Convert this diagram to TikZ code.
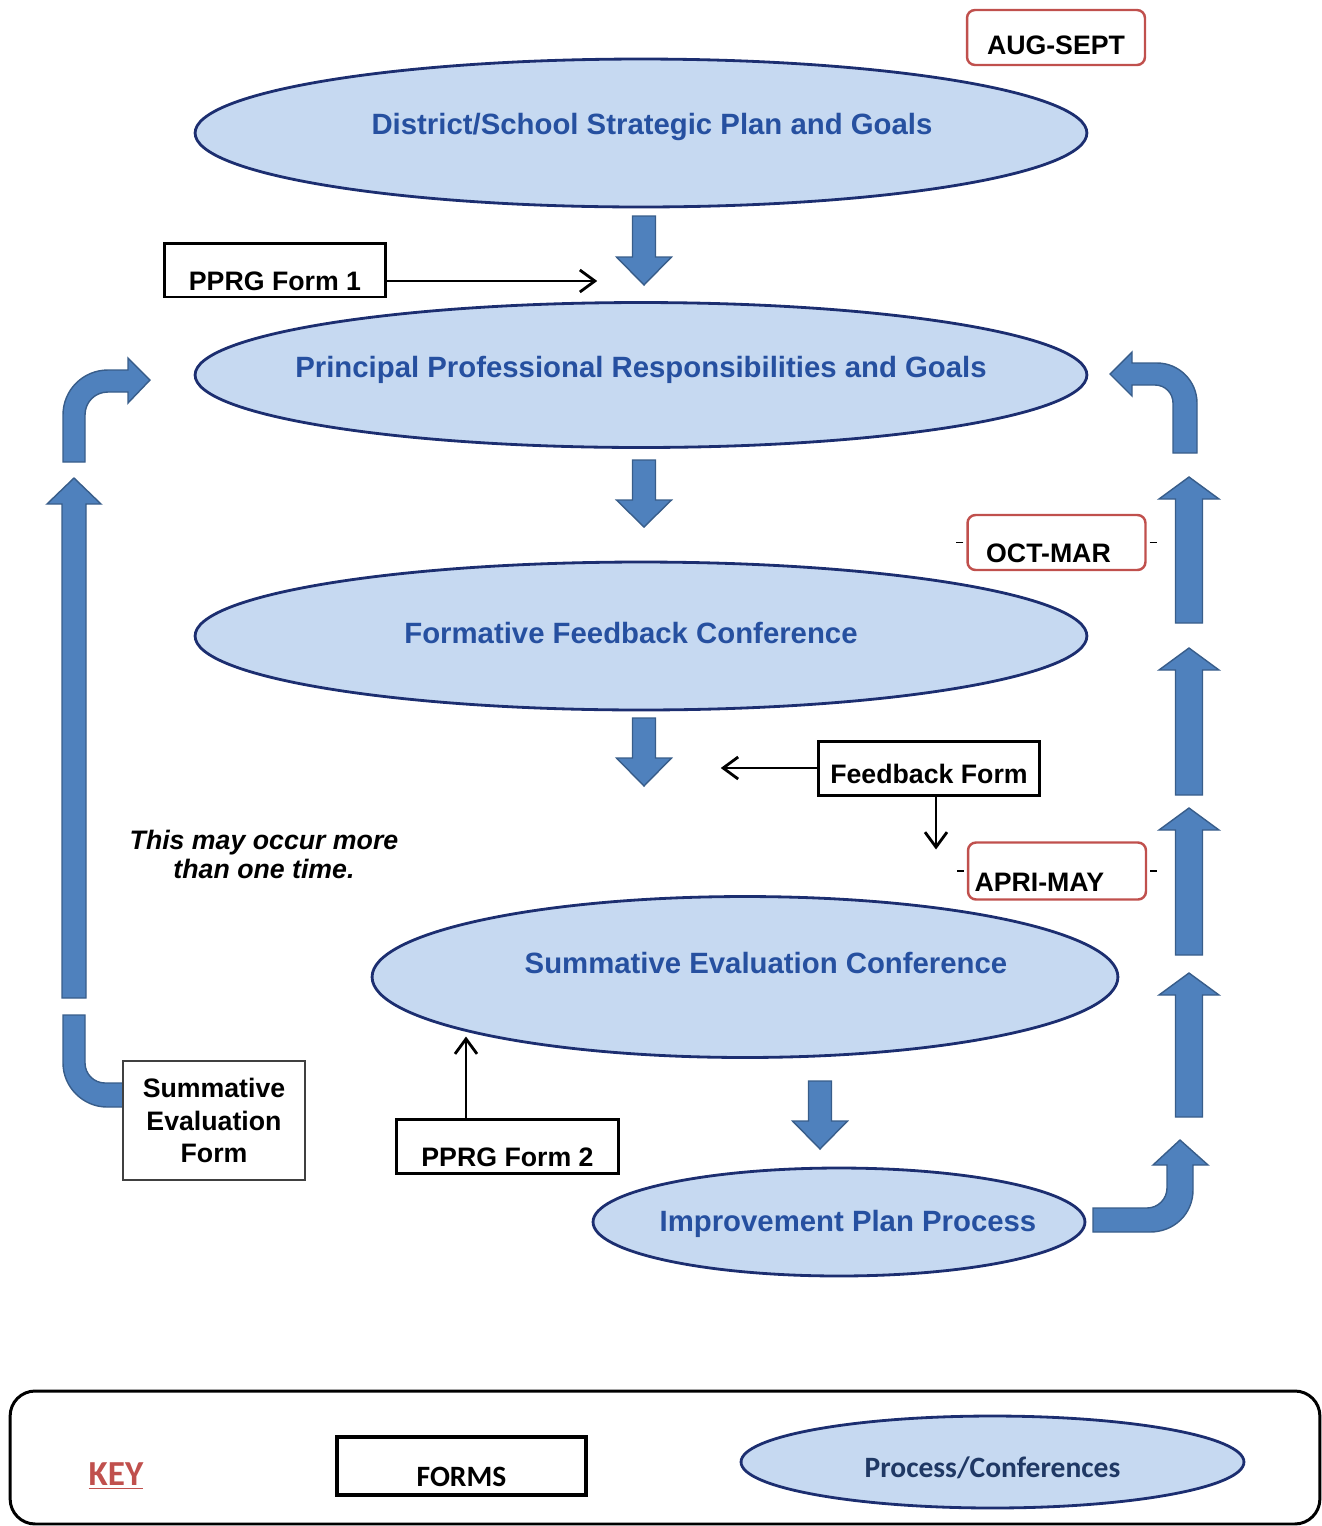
\documentclass[tikz,border=0pt]{standalone}
\usepackage{fontspec}
\setmainfont{Liberation Sans}
\newfontfamily\keyfont{Carlito}
\usetikzlibrary{shapes.geometric,arrows.meta}

\definecolor{procfill}{RGB}{198,217,241}
\definecolor{procline}{RGB}{28,46,112}
\definecolor{proctext}{RGB}{38,80,160}
\definecolor{arrfill}{RGB}{79,129,189}
\definecolor{arrline}{RGB}{56,93,138}
\definecolor{datered}{RGB}{192,80,77}
\definecolor{keynavy}{RGB}{31,56,100}

\tikzset{
  proc/.style={ellipse, draw=procline, fill=procfill, line width=1.6pt, inner sep=0pt},
  proclbl/.style={text=proctext, font=\fontsize{16.7}{20}\selectfont\bfseries},
  form/.style={draw=black, line width=1.7pt, font=\fontsize{15.2}{18.7}\selectfont\bfseries,
    text height=0.82cm, text depth=0pt, minimum width=4.43cm, minimum height=1.08cm, inner sep=0pt},
  datebox/.style={draw=datered, line width=1.4pt, rounded corners=0.16cm, font=\fontsize{15.2}{18.7}\selectfont\bfseries,
    text height=0.8cm, text depth=0pt, minimum width=3.56cm, minimum height=1.1cm, inner sep=0pt},
  blockarr/.style={fill=arrfill, draw=arrline, line width=0.8pt},
  thinarr/.style={line width=1.6pt, -{Straight Barb[length=0.3cm,width=0.44cm]}}
}

\begin{document}
\begin{tikzpicture}[x=0.02cm, y=-0.02cm]
\useasboundingbox (0,0) rectangle (1322,1526);

\node[proc, minimum width=17.84cm, minimum height=2.96cm,
  label={[proclbl, xshift=0.22cm, yshift=0.12cm]center:District/School Strategic Plan and Goals}] (district) at (641,133) {};
\node[proc, minimum width=17.84cm, minimum height=2.9cm,
  label={[proclbl, yshift=0.1cm]center:Principal Professional Responsibilities and Goals}] (principal) at (641,375) {};
\node[proc, minimum width=17.84cm, minimum height=2.96cm,
  label={[proclbl, xshift=-0.2cm, yshift=0.06cm]center:Formative Feedback Conference}] (formative) at (641,636) {};
\node[proc, minimum width=14.92cm, minimum height=3.22cm,
  label={[proclbl, xshift=0.42cm, yshift=0.28cm]center:Summative Evaluation Conference}] (summative) at (745,977) {};
\node[proc, minimum width=9.84cm, minimum height=2.16cm,
  label={[proclbl, xshift=0.18cm, yshift=-0.04cm]center:Improvement Plan Process}] (improve) at (839,1222) {};

\node[datebox, text height=0.68cm] (augsep) at (1056,37.5) {AUG-SEPT};
\node[datebox, text width=3.2cm, align=center, text height=0.8cm] (octmar) at (1056.5,542.5) {\hspace*{-0.32cm}OCT-MAR};
\node[datebox, text width=3.3cm, align=left, text height=0.82cm, minimum height=1.14cm] (aprmay) at (1057,871) {APRI-MAY};
\draw[line width=0.9pt] ([xshift=-0.06cm]octmar.west) -- ++(-7,0);
\draw[line width=0.9pt] ([xshift=0.06cm]octmar.east) -- ++(7,0);
\draw[line width=0.9pt] ([xshift=-0.06cm]aprmay.west) -- ++(-7,0);
\draw[line width=0.9pt] ([xshift=0.06cm]aprmay.east) -- ++(7,0);

\draw[blockarr] (632.5,216) -- (655.5,216) -- (655.5,257) -- (671.5,257) -- (644,285) -- (616.5,257) -- (632.5,257) -- cycle;
\draw[blockarr] (632.5,460) -- (655.5,460) -- (655.5,500) -- (671.5,500) -- (644,527) -- (616.5,500) -- (632.5,500) -- cycle;
\draw[blockarr] (632.5,718) -- (655.5,718) -- (655.5,758) -- (671.5,758) -- (644,786) -- (616.5,758) -- (632.5,758) -- cycle;
\draw[blockarr] (808.5,1081) -- (831.5,1081) -- (831.5,1121) -- (847.5,1121) -- (820,1149) -- (792.5,1121) -- (808.5,1121) -- cycle;

\draw[blockarr] (62,998) -- (86,998) -- (86,504) -- (101,504) -- (74,478) -- (47,504) -- (62,504) -- cycle;
\draw[blockarr] (63,462) -- (63,415) .. controls (63,390) and (83,370) .. (108,370) -- (128,370) -- (128,358) -- (150,380)
  -- (128,403) -- (128,392) -- (108,392) .. controls (95,392) and (85,402) .. (85,415) -- (85,462) -- cycle;
\draw[blockarr] (63,1015) -- (85,1015) -- (85,1063) .. controls (85,1074) and (94,1083) .. (105,1083) -- (130,1083)
  -- (130,1107) -- (107,1107) .. controls (83,1107) and (63,1087) .. (63,1063) -- cycle;

\draw[blockarr] (1175.5,1117) -- (1202.5,1117) -- (1202.5,995) -- (1219,995) -- (1189,973) -- (1159,995) -- (1175.5,995) -- cycle;
\draw[blockarr] (1175.5,955) -- (1202.5,955) -- (1202.5,830) -- (1219,830) -- (1189,808) -- (1159,830) -- (1175.5,830) -- cycle;
\draw[blockarr] (1175.5,795) -- (1202.5,795) -- (1202.5,670) -- (1219,670) -- (1189,648) -- (1159,670) -- (1175.5,670) -- cycle;
\draw[blockarr] (1175.5,623) -- (1202.5,623) -- (1202.5,499) -- (1219,499) -- (1189,477) -- (1159,499) -- (1175.5,499) -- cycle;
\draw[blockarr] (1197,453) -- (1197,403) .. controls (1197,381) and (1179,363) .. (1157,363) -- (1132,363) -- (1132,352) -- (1110,374)
  -- (1132,396) -- (1132,385) -- (1155,385) .. controls (1165,385) and (1173,393) .. (1173,403) -- (1173,453) -- cycle;
\draw[blockarr] (1093,1208) -- (1147,1208) .. controls (1158,1208) and (1167,1199) .. (1167,1188) -- (1167,1165) -- (1153,1165)
  -- (1180,1140) -- (1208,1165) -- (1193,1165) -- (1193,1190) .. controls (1193,1214) and (1174,1232) .. (1150,1232) -- (1093,1232) -- cycle;

\node[form] (form1) at (275,270) {PPRG Form 1};
\node[form, text height=0.62cm] (feedback) at (929,768) {Feedback Form};
\node[form] (form2) at (507.5,1146) {PPRG Form 2};
\node[draw=black!75, line width=0.6pt, fill=white, minimum width=3.64cm, minimum height=2.38cm, align=center,
  font=\fontsize{15.2}{18.7}\selectfont\bfseries] (sefform) at (214,1120.5) {Summative\\Evaluation\\Form};

\draw[thinarr] ([yshift=-0.22cm]form1.east) -- ++(210,0);
\draw[thinarr] (feedback.west) -- ++(-96,0);
\draw[thinarr] ([xshift=0.14cm]feedback.south) -- ++(0,53);
\draw[thinarr] ([xshift=-0.83cm]form2.north) -- ++(0,-81);

\node[align=center, font=\fontsize{15.2}{16.5}\selectfont\bfseries\itshape] (note) at (264,854) {This may occur more\\than one time.};

\node[draw=black, line width=1.7pt, rounded corners=0.5cm, minimum width=26.2cm, minimum height=2.66cm] (keyframe) at (665,1457.5) {};
\node[text=datered, font=\keyfont\bfseries\fontsize{20}{24}\selectfont] (keyword) at (116,1476) {\underline{KEY}};
\node[form, line width=2.2pt, minimum width=4.98cm, minimum height=1.16cm, font=\keyfont\bfseries\fontsize{16.8}{20}\selectfont,
  text height=0.8cm] (keyform) at (461.5,1466) {FORMS};
\node[proc, minimum width=10.06cm, minimum height=1.84cm,
  label={[text=keynavy, font=\keyfont\bfseries\fontsize{16.8}{20}\selectfont, yshift=-0.12cm]center:Process/Conferences}] (keyproc) at (992.5,1462) {};
\end{tikzpicture}
\end{document}
